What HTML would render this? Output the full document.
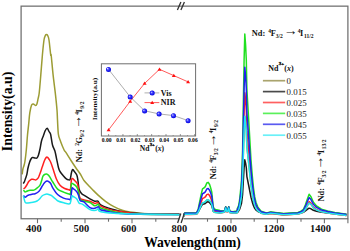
<!DOCTYPE html><html><head><meta charset="utf-8"><style>html,body{margin:0;padding:0;background:#fff;width:350px;height:251px;overflow:hidden;position:relative}</style></head><body><svg width="350" height="251" viewBox="0 0 350 251" style="position:absolute;left:0;top:0">
<defs><radialGradient id="dg" cx="0.5" cy="0.5" r="0.5" fx="0.3" fy="0.3"><stop offset="0" stop-color="#d8d8ff"/><stop offset="0.45" stop-color="#3a3aff"/><stop offset="1" stop-color="#0000dd"/></radialGradient></defs>
<path d="M22.20,174.40 C22.32,173.50 22.60,170.48 22.90,169.00 C23.20,167.52 23.65,166.83 24.00,165.50 C24.35,164.17 24.62,163.58 25.00,161.00 C25.38,158.42 25.88,154.33 26.30,150.00 C26.72,145.67 27.12,139.18 27.50,135.00 C27.88,130.82 28.22,128.58 28.60,124.90 C28.98,121.22 29.30,116.20 29.80,112.90 C30.30,109.60 31.02,106.58 31.60,105.10 C32.18,103.62 32.62,103.93 33.30,104.00 C33.98,104.07 35.10,105.50 35.70,105.50 C36.30,105.50 36.50,105.15 36.90,104.00 C37.30,102.85 37.72,100.43 38.10,98.60 C38.48,96.77 38.75,96.95 39.20,93.00 C39.65,89.05 40.27,81.23 40.80,74.90 C41.33,68.57 41.87,60.82 42.40,55.00 C42.93,49.18 43.52,43.23 44.00,40.00 C44.48,36.77 44.88,36.50 45.30,35.60 C45.72,34.70 46.10,34.60 46.50,34.60 C46.90,34.60 47.28,34.70 47.70,35.60 C48.12,36.50 48.50,36.78 49.00,40.00 C49.50,43.22 50.33,52.32 50.70,54.90 C51.07,57.48 50.80,52.17 51.20,55.50 C51.60,58.83 52.38,68.35 53.10,74.90 C53.82,81.45 54.85,88.95 55.50,94.80 C56.15,100.65 56.67,105.80 57.00,110.00 C57.33,114.20 57.27,115.95 57.50,120.00 C57.73,124.05 57.88,130.73 58.40,134.30 C58.92,137.87 59.65,138.78 60.60,141.40 C61.55,144.02 63.25,148.20 64.10,150.00 C64.95,151.80 64.55,150.45 65.70,152.20 C66.85,153.95 69.32,157.92 71.00,160.50 C72.68,163.08 74.25,165.45 75.80,167.70 C77.35,169.95 78.93,171.87 80.30,174.00 C81.67,176.13 82.38,178.33 84.00,180.50 C85.62,182.67 88.60,185.50 90.00,187.00 C91.40,188.50 91.00,188.10 92.40,189.50 C93.80,190.90 96.22,193.43 98.40,195.40 C100.58,197.37 102.92,199.42 105.50,201.30 C108.08,203.18 111.12,205.20 113.90,206.70 C116.68,208.20 119.52,209.40 122.20,210.30 C124.88,211.20 127.03,211.62 130.00,212.10 C132.97,212.58 136.20,212.93 140.00,213.20 C143.80,213.47 146.22,213.53 152.80,213.70 C159.38,213.87 175.05,214.12 179.50,214.20" fill="none" stroke="#9c9c34" stroke-width="1.5" stroke-linejoin="round"/>
<polyline points="183.80,216.50 184.60,214.20 190.00,214.20 196.50,214.11 198.20,212.32 201.00,205.83 202.50,202.83 203.90,202.45 205.30,201.79 206.80,200.10 208.20,199.77 209.60,200.80 210.70,202.45 211.80,204.47 213.20,211.24 214.30,212.23 215.60,212.55 220.00,213.07 224.60,212.00 225.70,208.00 226.80,211.50 227.80,211.50 228.70,208.00 229.80,212.40 232.90,212.90 236.40,213.11 237.70,212.29 237.20,211.85 238.60,210.10 239.60,207.09 240.60,201.62 241.50,196.15 242.60,179.74 243.40,152.39 244.10,130.51 244.80,116.29 245.60,122.30 246.30,130.51 246.90,146.92 248.70,163.33 251.00,185.21 252.30,193.96 253.50,200.52 254.70,205.28 256.00,208.46 257.90,210.97 261.10,213.16 266.40,214.15 270.70,213.30 283.60,214.80 297.90,213.90 300.50,213.30 303.60,211.86 305.40,209.28 307.30,205.92 309.10,202.98 311.00,204.42 313.40,207.78 316.50,210.00 321.50,211.86 327.60,212.94 334.80,213.96 346.50,215.40" fill="none" stroke="#9c9c34" stroke-width="1.5" stroke-linejoin="round"/>
<path d="M23.20,183.50 C23.40,183.20 24.02,182.53 24.40,181.70 C24.78,180.87 25.10,179.68 25.50,178.50 C25.90,177.32 26.38,176.35 26.80,174.60 C27.22,172.85 27.55,170.03 28.00,168.00 C28.45,165.97 29.00,163.90 29.50,162.40 C30.00,160.90 30.50,159.80 31.00,159.00 C31.50,158.20 31.83,157.77 32.50,157.60 C33.17,157.43 34.25,157.93 35.00,158.00 C35.75,158.07 36.42,158.50 37.00,158.00 C37.58,157.50 38.00,156.50 38.50,155.00 C39.00,153.50 39.50,151.33 40.00,149.00 C40.50,146.67 40.93,143.22 41.50,141.00 C42.07,138.78 42.77,137.45 43.40,135.70 C44.03,133.95 44.67,131.75 45.30,130.50 C45.93,129.25 46.58,128.03 47.20,128.20 C47.82,128.37 48.43,130.48 49.00,131.50 C49.57,132.52 50.02,132.05 50.60,134.30 C51.18,136.55 51.78,142.22 52.50,145.00 C53.22,147.78 54.20,148.62 54.90,151.00 C55.60,153.38 56.10,156.52 56.70,159.30 C57.30,162.08 57.95,165.67 58.50,167.70 C59.05,169.73 59.17,170.12 60.00,171.50 C60.83,172.88 62.50,174.82 63.50,176.00 C64.50,177.18 65.18,177.97 66.00,178.60 C66.82,179.23 67.70,179.70 68.40,179.80 C69.10,179.90 69.70,180.33 70.20,179.20 C70.70,178.07 71.02,174.62 71.40,173.00 C71.78,171.38 72.07,169.83 72.50,169.50 C72.93,169.17 73.28,170.08 74.00,171.00 C74.72,171.92 76.13,173.33 76.80,175.00 C77.47,176.67 77.62,178.62 78.00,181.00 C78.38,183.38 78.52,187.22 79.10,189.30 C79.68,191.38 80.50,192.40 81.50,193.50 C82.50,194.60 83.70,195.02 85.10,195.90 C86.50,196.78 88.28,197.90 89.90,198.80 C91.52,199.70 93.48,200.92 94.80,201.30 C96.12,201.68 96.82,200.50 97.80,201.10 C98.78,201.70 99.02,203.77 100.70,204.90 C102.38,206.03 105.30,207.00 107.90,207.90 C110.50,208.80 112.62,209.50 116.30,210.30 C119.98,211.10 124.38,212.08 130.00,212.70 C135.62,213.32 141.75,213.73 150.00,214.00 C158.25,214.27 174.58,214.25 179.50,214.30" fill="none" stroke="#1a1a1a" stroke-width="1.5" stroke-linejoin="round"/>
<polyline points="183.80,215.50 184.60,213.20 190.00,213.20 196.50,213.13 198.20,211.72 201.00,206.61 202.50,204.25 203.90,203.95 205.30,203.43 206.80,202.10 208.20,201.84 209.60,202.66 210.70,203.95 211.80,205.54 213.20,210.87 214.30,211.65 215.60,211.91 220.00,212.31 224.60,211.00 225.70,207.00 226.80,210.50 227.80,210.50 228.70,207.00 229.80,211.40 232.90,211.90 236.40,212.60 237.70,212.16 237.20,211.92 238.60,210.96 239.60,209.33 240.60,206.35 241.50,203.37 242.60,194.43 243.40,179.53 244.10,167.61 244.80,159.86 245.60,163.14 246.30,167.61 246.90,176.55 248.70,185.49 251.00,197.41 252.30,202.17 253.50,205.75 254.70,208.34 256.00,210.07 257.90,211.44 261.10,212.63 266.40,213.17 270.70,212.30 283.60,213.80 297.90,213.06 300.50,212.79 303.60,212.15 305.40,210.99 307.30,209.47 309.10,208.15 311.00,208.80 313.40,210.31 316.50,211.31 321.50,212.15 327.60,212.63 334.80,213.09 346.50,214.40" fill="none" stroke="#1a1a1a" stroke-width="1.5" stroke-linejoin="round"/>
<path d="M23.50,188.90 C23.75,188.70 24.40,188.43 25.00,187.70 C25.60,186.97 26.50,185.50 27.10,184.50 C27.70,183.50 28.08,182.42 28.60,181.70 C29.12,180.98 29.70,180.60 30.20,180.20 C30.70,179.80 31.05,179.43 31.60,179.30 C32.15,179.17 32.82,179.30 33.50,179.40 C34.18,179.50 35.08,179.97 35.70,179.90 C36.32,179.83 36.70,179.48 37.20,179.00 C37.70,178.52 38.20,178.00 38.70,177.00 C39.20,176.00 39.70,174.40 40.20,173.00 C40.70,171.60 41.25,169.93 41.70,168.60 C42.15,167.27 42.43,166.35 42.90,165.00 C43.37,163.65 43.93,161.77 44.50,160.50 C45.07,159.23 45.78,157.92 46.30,157.40 C46.82,156.88 47.12,157.05 47.60,157.40 C48.08,157.75 48.63,158.57 49.20,159.50 C49.77,160.43 50.30,161.25 51.00,163.00 C51.70,164.75 52.50,167.33 53.40,170.00 C54.30,172.67 55.30,176.45 56.40,179.00 C57.50,181.55 58.62,183.72 60.00,185.30 C61.38,186.88 63.22,187.77 64.70,188.50 C66.18,189.23 67.95,189.53 68.90,189.70 C69.85,189.87 69.98,191.12 70.40,189.50 C70.82,187.88 71.05,181.82 71.40,180.00 C71.75,178.18 72.02,178.57 72.50,178.60 C72.98,178.63 73.58,179.50 74.30,180.20 C75.02,180.90 76.18,181.87 76.80,182.80 C77.42,183.73 77.52,183.40 78.00,185.80 C78.48,188.20 78.92,194.92 79.70,197.20 C80.48,199.48 81.00,198.82 82.70,199.50 C84.40,200.18 87.88,200.65 89.90,201.30 C91.92,201.95 93.48,203.20 94.80,203.40 C96.12,203.60 97.00,202.18 97.80,202.50 C98.60,202.82 97.92,204.20 99.60,205.30 C101.28,206.40 104.52,208.07 107.90,209.10 C111.28,210.13 114.55,210.68 119.90,211.50 C125.25,212.32 130.07,213.52 140.00,214.00 C149.93,214.48 172.92,214.33 179.50,214.40" fill="none" stroke="#ff2020" stroke-width="1.5" stroke-linejoin="round"/>
<polyline points="183.80,216.70 184.60,214.40 190.00,214.40 196.50,214.27 198.20,211.76 201.00,202.65 202.50,198.43 203.90,197.90 205.30,196.98 206.80,194.60 208.20,194.14 209.60,195.59 210.70,197.90 211.80,200.74 213.20,210.24 214.30,211.63 215.60,212.09 220.00,212.82 224.60,212.20 225.70,208.20 226.80,211.70 227.80,211.70 228.70,208.20 229.80,212.60 232.90,213.10 236.40,213.04 237.70,212.02 237.20,211.48 238.60,209.31 239.60,205.57 240.60,198.78 241.50,191.99 242.60,171.62 243.40,137.67 244.10,110.51 244.80,92.86 245.60,100.33 246.30,110.51 246.90,130.88 248.70,151.25 251.00,178.41 252.30,189.28 253.50,197.43 254.70,203.33 256.00,207.27 257.90,210.39 261.10,213.11 266.40,214.33 270.70,213.50 283.60,215.00 297.90,214.06 300.50,213.38 303.60,211.75 305.40,208.82 307.30,205.02 309.10,201.68 311.00,203.32 313.40,207.12 316.50,209.64 321.50,211.75 327.60,212.97 334.80,214.13 346.50,215.60" fill="none" stroke="#ff2020" stroke-width="1.5" stroke-linejoin="round"/>
<path d="M23.50,190.00 C23.75,190.32 24.25,191.78 25.00,191.90 C25.75,192.02 27.08,190.97 28.00,190.70 C28.92,190.43 29.52,190.40 30.50,190.30 C31.48,190.20 32.90,190.40 33.90,190.10 C34.90,189.80 35.50,189.30 36.50,188.50 C37.50,187.70 39.07,186.55 39.90,185.30 C40.73,184.05 41.00,182.50 41.50,181.00 C42.00,179.50 42.40,177.38 42.90,176.30 C43.40,175.22 43.90,174.88 44.50,174.50 C45.10,174.12 45.82,173.85 46.50,174.00 C47.18,174.15 48.00,174.82 48.60,175.40 C49.20,175.98 49.40,176.40 50.10,177.50 C50.80,178.60 51.55,180.07 52.80,182.00 C54.05,183.93 55.82,187.42 57.60,189.10 C59.38,190.78 61.62,191.30 63.50,192.10 C65.38,192.90 67.73,193.67 68.90,193.90 C70.07,194.13 70.08,195.15 70.50,193.50 C70.92,191.85 70.95,185.58 71.40,184.00 C71.85,182.42 72.30,183.50 73.20,184.00 C74.10,184.50 75.92,185.72 76.80,187.00 C77.68,188.28 78.02,189.72 78.50,191.70 C78.98,193.68 79.00,197.40 79.70,198.90 C80.40,200.40 81.00,200.10 82.70,200.70 C84.40,201.30 87.88,201.65 89.90,202.50 C91.92,203.35 93.38,205.50 94.80,205.80 C96.22,206.10 97.52,204.00 98.40,204.30 C99.28,204.60 98.52,206.60 100.10,207.60 C101.68,208.60 104.43,209.40 107.90,210.30 C111.37,211.20 115.55,212.35 120.90,213.00 C126.25,213.65 130.23,213.95 140.00,214.20 C149.77,214.45 172.92,214.45 179.50,214.50" fill="none" stroke="#20e020" stroke-width="1.5" stroke-linejoin="round"/>
<polyline points="183.80,215.30 184.60,213.00 190.00,213.00 196.50,212.80 198.20,209.00 201.00,195.20 202.50,188.80 203.90,188.00 205.30,186.60 206.80,183.00 208.20,182.30 209.60,184.50 210.70,188.00 211.80,192.30 213.20,206.70 214.30,208.80 215.60,209.50 220.00,210.60 224.60,210.80 225.70,206.80 226.80,210.30 227.80,210.30 228.70,206.80 229.80,211.20 232.90,211.70 236.40,211.00 237.70,209.50 237.20,208.70 238.60,205.50 239.60,200.00 240.60,190.00 241.50,180.00 242.60,150.00 243.40,100.00 244.10,60.00 244.80,34.00 245.60,45.00 246.30,60.00 246.90,90.00 248.70,120.00 251.00,160.00 252.30,176.00 253.50,188.00 254.70,196.70 256.00,202.50 257.90,207.10 261.10,211.10 266.40,212.90 270.70,212.10 283.60,213.60 297.90,212.50 300.50,211.50 303.60,209.10 305.40,204.80 307.30,199.20 309.10,194.30 311.00,196.70 313.40,202.30 316.50,206.00 321.50,209.10 327.60,210.90 334.80,212.60 346.50,214.20" fill="none" stroke="#20e020" stroke-width="1.5" stroke-linejoin="round"/>
<path d="M23.50,195.60 C23.77,195.88 24.45,197.30 25.10,197.30 C25.75,197.30 26.72,196.00 27.40,195.60 C28.08,195.20 28.43,195.12 29.20,194.90 C29.97,194.68 31.02,194.50 32.00,194.30 C32.98,194.10 34.18,194.00 35.10,193.70 C36.02,193.40 36.70,193.10 37.50,192.50 C38.30,191.90 39.20,191.02 39.90,190.10 C40.60,189.18 41.10,188.00 41.70,187.00 C42.30,186.00 42.92,184.93 43.50,184.10 C44.08,183.27 44.60,182.50 45.20,182.00 C45.80,181.50 46.47,181.13 47.10,181.10 C47.73,181.07 48.40,181.40 49.00,181.80 C49.60,182.20 50.07,182.48 50.70,183.50 C51.33,184.52 51.65,186.07 52.80,187.90 C53.95,189.73 55.82,192.80 57.60,194.50 C59.38,196.20 61.62,197.30 63.50,198.10 C65.38,198.90 67.72,199.18 68.90,199.30 C70.08,199.42 70.08,200.60 70.60,198.80 C71.12,197.00 71.57,190.18 72.00,188.50 C72.43,186.82 72.40,188.17 73.20,188.70 C74.00,189.23 75.92,190.60 76.80,191.70 C77.68,192.80 77.92,193.80 78.50,195.30 C79.08,196.80 79.40,199.60 80.30,200.70 C81.20,201.80 82.28,200.75 83.90,201.90 C85.52,203.05 88.18,206.53 90.00,207.60 C91.82,208.67 93.40,208.45 94.80,208.30 C96.20,208.15 97.52,206.50 98.40,206.70 C99.28,206.90 98.52,208.70 100.10,209.50 C101.68,210.30 104.43,210.83 107.90,211.50 C111.37,212.17 115.55,213.03 120.90,213.50 C126.25,213.97 130.23,214.12 140.00,214.30 C149.77,214.48 172.92,214.55 179.50,214.60" fill="none" stroke="#2020f0" stroke-width="1.5" stroke-linejoin="round"/>
<polyline points="183.80,215.60 184.60,213.30 190.00,213.30 196.50,213.14 198.20,210.06 201.00,198.88 202.50,193.70 203.90,193.05 205.30,191.92 206.80,189.00 208.20,188.43 209.60,190.22 210.70,193.05 211.80,196.53 213.20,208.20 214.30,209.90 215.60,210.47 220.00,211.36 224.60,211.10 225.70,207.10 226.80,210.60 227.80,210.60 228.70,207.10 229.80,211.50 232.90,212.00 236.40,211.67 237.70,210.44 237.20,209.79 238.60,207.18 239.60,202.69 240.60,194.53 241.50,186.37 242.60,161.89 243.40,121.09 244.10,88.45 244.80,67.24 245.60,76.21 246.30,88.45 246.90,112.93 248.70,137.41 251.00,170.05 252.30,183.11 253.50,192.90 254.70,200.00 256.00,204.73 257.90,208.49 261.10,211.75 266.40,213.22 270.70,212.40 283.60,213.90 297.90,212.88 300.50,212.04 303.60,210.02 305.40,206.41 307.30,201.71 309.10,197.59 311.00,199.61 313.40,204.31 316.50,207.42 321.50,210.02 327.60,211.54 334.80,212.96 346.50,214.50" fill="none" stroke="#2020f0" stroke-width="1.5" stroke-linejoin="round"/>
<path d="M23.30,195.60 C23.58,196.67 24.47,200.77 25.00,202.00 C25.53,203.23 25.50,202.92 26.50,203.00 C27.50,203.08 29.75,202.67 31.00,202.50 C32.25,202.33 33.00,202.25 34.00,202.00 C35.00,201.75 36.08,201.50 37.00,201.00 C37.92,200.50 38.67,199.83 39.50,199.00 C40.33,198.17 41.17,196.73 42.00,196.00 C42.83,195.27 43.67,194.93 44.50,194.60 C45.33,194.27 46.17,193.97 47.00,194.00 C47.83,194.03 48.73,194.52 49.50,194.80 C50.27,195.08 50.65,195.05 51.60,195.70 C52.55,196.35 54.13,197.82 55.20,198.70 C56.27,199.58 56.57,200.32 58.00,201.00 C59.43,201.68 61.87,202.33 63.80,202.80 C65.73,203.27 68.40,204.27 69.60,203.80 C70.80,203.33 70.60,201.32 71.00,200.00 C71.40,198.68 71.63,196.48 72.00,195.90 C72.37,195.32 72.40,196.00 73.20,196.50 C74.00,197.00 75.82,197.80 76.80,198.90 C77.78,200.00 78.12,202.20 79.10,203.10 C80.08,204.00 80.88,203.22 82.70,204.30 C84.52,205.38 87.78,208.60 90.00,209.60 C92.22,210.60 94.60,210.48 96.00,210.30 C97.40,210.12 97.72,208.30 98.40,208.50 C99.08,208.70 97.52,210.70 100.10,211.50 C102.68,212.30 108.92,212.90 113.90,213.30 C118.88,213.70 119.07,213.67 130.00,213.90 C140.93,214.13 171.25,214.57 179.50,214.70" fill="none" stroke="#20e8f0" stroke-width="1.5" stroke-linejoin="round"/>
<polyline points="183.80,216.50 184.60,214.20 190.00,214.20 196.50,214.11 198.20,212.32 201.00,205.83 202.50,202.83 203.90,202.45 205.30,201.79 206.80,200.10 208.20,199.77 209.60,200.80 210.70,202.45 211.80,204.47 213.20,211.24 214.30,212.23 215.60,212.55 220.00,213.07 224.60,212.00 225.70,208.00 226.80,211.50 227.80,211.50 228.70,208.00 229.80,212.40 232.90,212.90 236.40,213.11 237.70,212.29 237.20,211.85 238.60,210.10 239.60,207.09 240.60,201.62 241.50,196.15 242.60,179.74 243.40,152.39 244.10,130.51 244.80,116.29 245.60,122.30 246.30,130.51 246.90,146.92 248.70,163.33 251.00,185.21 252.30,193.96 253.50,200.52 254.70,205.28 256.00,208.46 257.90,210.97 261.10,213.16 266.40,214.15 270.70,213.30 283.60,214.80 297.90,213.90 300.50,213.30 303.60,211.86 305.40,209.28 307.30,205.92 309.10,202.98 311.00,204.42 313.40,207.78 316.50,210.00 321.50,211.86 327.60,212.94 334.80,213.96 346.50,215.40" fill="none" stroke="#20e8f0" stroke-width="1.5" stroke-linejoin="round"/>
<rect x="21.1" y="6.15" width="326.8" height="212.6" fill="none" stroke="#6e6e6e" stroke-width="1.25"/>
<line x1="37.5" y1="218.7" x2="37.5" y2="223.2" stroke="#6e6e6e" stroke-width="1.1"/>
<line x1="85" y1="218.7" x2="85" y2="223.2" stroke="#6e6e6e" stroke-width="1.1"/>
<line x1="132" y1="218.7" x2="132" y2="223.2" stroke="#6e6e6e" stroke-width="1.1"/>
<line x1="231" y1="218.7" x2="231" y2="223.2" stroke="#6e6e6e" stroke-width="1.1"/>
<line x1="277.4" y1="218.7" x2="277.4" y2="223.2" stroke="#6e6e6e" stroke-width="1.1"/>
<line x1="324.4" y1="218.7" x2="324.4" y2="223.2" stroke="#6e6e6e" stroke-width="1.1"/>
<line x1="347.9" y1="218.7" x2="347.9" y2="223.2" stroke="#6e6e6e" stroke-width="1.1"/>
<line x1="61.2" y1="218.7" x2="61.2" y2="221.7" stroke="#6e6e6e" stroke-width="1.1"/>
<line x1="108.5" y1="218.7" x2="108.5" y2="221.7" stroke="#6e6e6e" stroke-width="1.1"/>
<line x1="155.8" y1="218.7" x2="155.8" y2="221.7" stroke="#6e6e6e" stroke-width="1.1"/>
<line x1="207.5" y1="218.7" x2="207.5" y2="221.7" stroke="#6e6e6e" stroke-width="1.1"/>
<line x1="254.2" y1="218.7" x2="254.2" y2="221.7" stroke="#6e6e6e" stroke-width="1.1"/>
<line x1="301" y1="218.7" x2="301" y2="221.7" stroke="#6e6e6e" stroke-width="1.1"/>
<rect x="179.6" y="216" width="4" height="5" fill="#fff"/>
<line x1="177.6" y1="223" x2="180.8" y2="213.5" stroke="#333" stroke-width="1.3"/>
<line x1="177.4" y1="10" x2="180.9" y2="2" stroke="#333" stroke-width="1.3"/>
<line x1="181.1" y1="223" x2="184.3" y2="213.5" stroke="#333" stroke-width="1.3"/>
<line x1="180.9" y1="10" x2="184.4" y2="2" stroke="#333" stroke-width="1.3"/>
<text x="33.9" y="232.3" font-family="Liberation Serif" font-weight="bold" font-size="10.4" text-anchor="middle" fill="#111">400</text>
<text x="81.3" y="232.3" font-family="Liberation Serif" font-weight="bold" font-size="10.4" text-anchor="middle" fill="#111">500</text>
<text x="128.7" y="232.3" font-family="Liberation Serif" font-weight="bold" font-size="10.4" text-anchor="middle" fill="#111">600</text>
<text x="179.4" y="232.3" font-family="Liberation Serif" font-weight="bold" font-size="10.4" text-anchor="middle" fill="#111">800</text>
<text x="226.6" y="232.3" font-family="Liberation Serif" font-weight="bold" font-size="10.4" text-anchor="middle" fill="#111">1000</text>
<text x="274" y="232.3" font-family="Liberation Serif" font-weight="bold" font-size="10.4" text-anchor="middle" fill="#111">1200</text>
<text x="320.5" y="232.3" font-family="Liberation Serif" font-weight="bold" font-size="10.4" text-anchor="middle" fill="#111">1400</text>
<text x="144.2" y="246.6" font-family="Liberation Serif" font-weight="bold" font-size="13.6" fill="#000">Wavelength(nm)</text>
<text transform="translate(11.8,151.2) rotate(-90)" font-family="Liberation Serif" font-weight="bold" font-size="13.85" fill="#000">Intensity(a.u)</text>
<g transform="translate(251.85,35.6)" font-family="Liberation Serif" font-weight="bold" fill="#111"><text x="0.00" y="0.00" font-size="8.34">Nd:</text><text x="16.53" y="-3.00" font-size="5.56">4</text><text x="18.85" y="0.00" font-size="8.34">F</text><text x="23.84" y="1.90" font-size="5.56">3/2</text><text x="32.02" y="-0.46" font-size="13.91">→</text><text x="46.02" y="-3.00" font-size="5.56">4</text><text x="48.18" y="0.00" font-size="8.34">I</text><text x="52.14" y="1.90" font-size="5.56">11/2</text></g>
<g transform="translate(81.9,162.3) rotate(-90)" font-family="Liberation Serif" font-weight="bold" fill="#111"><text x="0.00" y="0.00" font-size="8.34">Nd:</text><text x="16.53" y="-3.00" font-size="5.56">2</text><text x="18.85" y="0.00" font-size="8.34">G</text><text x="25.39" y="1.90" font-size="5.56">9/2</text><text x="33.57" y="-0.46" font-size="13.91">→</text><text x="47.57" y="-3.00" font-size="5.56">4</text><text x="49.73" y="0.00" font-size="8.34">I</text><text x="53.68" y="1.90" font-size="5.56">9/2</text></g>
<g transform="translate(216.1,179.2) rotate(-90)" font-family="Liberation Serif" font-weight="bold" fill="#111"><text x="0.00" y="0.00" font-size="8.34">Nd:</text><text x="16.53" y="-3.00" font-size="5.56">4</text><text x="18.85" y="0.00" font-size="8.34">F</text><text x="23.84" y="1.90" font-size="5.56">3/2</text><text x="32.02" y="-0.46" font-size="13.91">→</text><text x="46.02" y="-3.00" font-size="5.56">4</text><text x="48.18" y="0.00" font-size="8.34">I</text><text x="52.14" y="1.90" font-size="5.56">9/2</text></g>
<g transform="translate(323.9,201.4) rotate(-90)" font-family="Liberation Serif" font-weight="bold" fill="#111"><text x="0.00" y="0.00" font-size="8.34">Nd:</text><text x="16.53" y="-3.00" font-size="5.56">4</text><text x="18.85" y="0.00" font-size="8.34">F</text><text x="23.84" y="1.90" font-size="5.56">3/2</text><text x="32.02" y="-0.46" font-size="13.91">→</text><text x="46.02" y="-3.00" font-size="5.56">4</text><text x="48.18" y="0.00" font-size="8.34">I</text><text x="52.14" y="1.90" font-size="5.56">13/2</text></g>
<text x="268.2" y="70.9" font-family="Liberation Serif" font-weight="bold" fill="#111" font-size="8">Nd<tspan font-size="5.0" dy="-5.76" dx="0.2" stroke="#111" stroke-width="0.3">3+</tspan><tspan dy="5.76" dx="0.3">(</tspan><tspan font-style="italic">x</tspan><tspan>)</tspan></text>
<line x1="262.9" y1="80.7" x2="285.2" y2="80.7" stroke="#aaa46e" stroke-width="1.7"/>
<text x="286.6" y="84.00" font-family="Liberation Serif" font-size="8.9" fill="#222">0</text>
<line x1="262.9" y1="91.60000000000001" x2="285.2" y2="91.60000000000001" stroke="#4a4a4a" stroke-width="1.7"/>
<text x="286.6" y="94.90" font-family="Liberation Serif" font-size="8.9" fill="#222">0.015</text>
<line x1="262.9" y1="102.5" x2="285.2" y2="102.5" stroke="#ff6060" stroke-width="1.7"/>
<text x="286.6" y="105.80" font-family="Liberation Serif" font-size="8.9" fill="#222">0.025</text>
<line x1="262.9" y1="113.4" x2="285.2" y2="113.4" stroke="#5af05a" stroke-width="1.7"/>
<text x="286.6" y="116.70" font-family="Liberation Serif" font-size="8.9" fill="#222">0.035</text>
<line x1="262.9" y1="124.30000000000001" x2="285.2" y2="124.30000000000001" stroke="#5a5af0" stroke-width="1.7"/>
<text x="286.6" y="127.60" font-family="Liberation Serif" font-size="8.9" fill="#222">0.045</text>
<line x1="262.9" y1="135.2" x2="285.2" y2="135.2" stroke="#6af0f8" stroke-width="1.7"/>
<text x="286.6" y="138.50" font-family="Liberation Serif" font-size="8.9" fill="#222">0.055</text>
<rect x="101.4" y="63.8" width="94.2" height="72.2" fill="#fff" stroke="#6e6e6e" stroke-width="1"/>
<polyline points="108.5,69.3 130.2,96.9 144.6,110.8 159.1,113.9 173.5,115.6 188.1,120.6" fill="none" stroke="#999" stroke-width="0.8"/>
<polyline points="108.6,129.9 130.2,101.3 144.6,83.4 159.5,69.3 173.8,75.6 188.1,81.9" fill="none" stroke="#ff3030" stroke-width="0.8"/>
<circle cx="108.5" cy="69.5" r="2.5" fill="url(#dg)"/>
<circle cx="130.2" cy="97.10000000000001" r="2.5" fill="url(#dg)"/>
<circle cx="144.6" cy="111.0" r="2.5" fill="url(#dg)"/>
<circle cx="159.1" cy="114.10000000000001" r="2.5" fill="url(#dg)"/>
<circle cx="173.5" cy="115.8" r="2.5" fill="url(#dg)"/>
<circle cx="188.1" cy="120.8" r="2.5" fill="url(#dg)"/>
<polygon points="108.6,128.0 110.6,131.3 106.6,131.3" fill="#ff1010"/>
<polygon points="130.2,99.39999999999999 132.2,102.7 128.2,102.7" fill="#ff1010"/>
<polygon points="144.6,81.5 146.6,84.80000000000001 142.6,84.80000000000001" fill="#ff1010"/>
<polygon points="159.5,67.39999999999999 161.5,70.7 157.5,70.7" fill="#ff1010"/>
<polygon points="173.8,73.69999999999999 175.8,77.0 171.8,77.0" fill="#ff1010"/>
<polygon points="188.1,80.0 190.1,83.30000000000001 186.1,83.30000000000001" fill="#ff1010"/>
<line x1="108.6" y1="136" x2="108.6" y2="134" stroke="#6e6e6e" stroke-width="0.7"/>
<text x="106.70" y="141.5" font-family="Liberation Serif" font-weight="bold" font-size="5.6" text-anchor="middle" fill="#000">0.00</text>
<line x1="122.94999999999999" y1="136" x2="122.94999999999999" y2="134" stroke="#6e6e6e" stroke-width="0.7"/>
<text x="121.05" y="141.5" font-family="Liberation Serif" font-weight="bold" font-size="5.6" text-anchor="middle" fill="#000">0.01</text>
<line x1="137.29999999999998" y1="136" x2="137.29999999999998" y2="134" stroke="#6e6e6e" stroke-width="0.7"/>
<text x="135.40" y="141.5" font-family="Liberation Serif" font-weight="bold" font-size="5.6" text-anchor="middle" fill="#000">0.02</text>
<line x1="151.64999999999998" y1="136" x2="151.64999999999998" y2="134" stroke="#6e6e6e" stroke-width="0.7"/>
<text x="149.75" y="141.5" font-family="Liberation Serif" font-weight="bold" font-size="5.6" text-anchor="middle" fill="#000">0.03</text>
<line x1="166.0" y1="136" x2="166.0" y2="134" stroke="#6e6e6e" stroke-width="0.7"/>
<text x="164.10" y="141.5" font-family="Liberation Serif" font-weight="bold" font-size="5.6" text-anchor="middle" fill="#000">0.04</text>
<line x1="180.35" y1="136" x2="180.35" y2="134" stroke="#6e6e6e" stroke-width="0.7"/>
<text x="178.45" y="141.5" font-family="Liberation Serif" font-weight="bold" font-size="5.6" text-anchor="middle" fill="#000">0.05</text>
<line x1="194.7" y1="136" x2="194.7" y2="134" stroke="#6e6e6e" stroke-width="0.7"/>
<text x="192.80" y="141.5" font-family="Liberation Serif" font-weight="bold" font-size="5.6" text-anchor="middle" fill="#000">0.06</text>
<line x1="115.77" y1="136" x2="115.77" y2="135" stroke="#6e6e6e" stroke-width="0.6"/>
<line x1="130.11999999999998" y1="136" x2="130.11999999999998" y2="135" stroke="#6e6e6e" stroke-width="0.6"/>
<line x1="144.46999999999997" y1="136" x2="144.46999999999997" y2="135" stroke="#6e6e6e" stroke-width="0.6"/>
<line x1="158.81999999999996" y1="136" x2="158.81999999999996" y2="135" stroke="#6e6e6e" stroke-width="0.6"/>
<line x1="173.17" y1="136" x2="173.17" y2="135" stroke="#6e6e6e" stroke-width="0.6"/>
<line x1="187.51999999999998" y1="136" x2="187.51999999999998" y2="135" stroke="#6e6e6e" stroke-width="0.6"/>
<text x="139.8" y="150.7" font-family="Liberation Serif" font-weight="bold" fill="#111" font-size="7.6">Nd<tspan font-size="4.8" dy="-4.71" dx="0.2" stroke="#111" stroke-width="0.3">3+</tspan><tspan dy="4.71" dx="0.3">(</tspan><tspan font-style="italic">x</tspan><tspan>)</tspan></text>
<text transform="translate(97.4,120.2) rotate(-90) scale(1.0,0.82)" font-family="Liberation Serif" font-weight="bold" fill="#111" font-size="7.4">Intensity(a.u)</text>
<line x1="144.5" y1="92.9" x2="159.3" y2="92.9" stroke="#999" stroke-width="0.8"/><circle cx="152.2" cy="93.10000000000001" r="2.5" fill="url(#dg)"/>
<line x1="144.5" y1="102.6" x2="159.3" y2="102.6" stroke="#ff3030" stroke-width="0.8"/><polygon points="152.2,100.69999999999999 154.2,104.0 150.2,104.0" fill="#ff1010"/>
<text x="160.8" y="95.8" font-family="Liberation Serif" font-weight="bold" fill="#111" font-size="8">Vis</text>
<text x="160.8" y="105.4" font-family="Liberation Serif" font-weight="bold" fill="#111" font-size="8">NIR</text>
</svg></body></html>
